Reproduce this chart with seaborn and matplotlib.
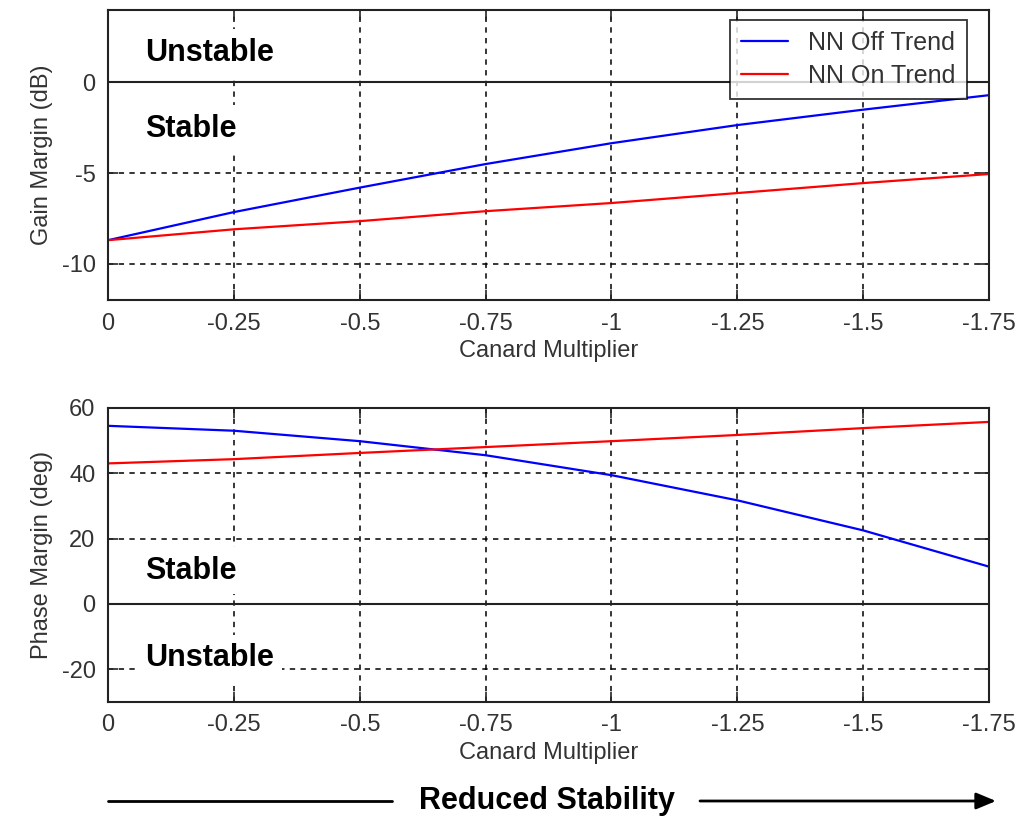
import matplotlib
matplotlib.use("Agg")
import numpy as np
import pandas as pd
import matplotlib.pyplot as plt
import seaborn as sns

# Dados
canard = [0, -0.25, -0.5, -0.75, -1.0, -1.25, -1.5, -1.75]
gain_off = [-8.7, -7.15, -5.8, -4.5, -3.35, -2.35, -1.5, -0.7]
gain_on = [-8.7, -8.1, -7.65, -7.1, -6.65, -6.1, -5.55, -5.05]
phase_off = [54.5, 53.0, 49.8, 45.5, 39.4, 31.7, 22.5, 11.4]
phase_on = [43.0, 44.3, 46.2, 48.0, 49.8, 51.7, 53.8, 55.7]
series_names = ["NN Off Trend", "NN On Trend"]
xticks = [0, -0.25, -0.5, -0.75, -1, -1.25, -1.5, -1.75]
xtick_labels = ["0", "-0.25", "-0.5", "-0.75", "-1", "-1.25", "-1.5", "-1.75"]

sns.set_style("ticks")
plt.rcParams["font.family"] = ["Liberation Sans", "DejaVu Sans"]
plt.rcParams["axes.unicode_minus"] = False

df_gain = pd.DataFrame({"x": canard * 2, "y": gain_off + gain_on,
                        "serie": [series_names[0]] * 8 + [series_names[1]] * 8})
df_phase = pd.DataFrame({"x": canard * 2, "y": phase_off + phase_on,
                         "serie": [series_names[0]] * 8 + [series_names[1]] * 8})
cores = {series_names[0]: "#0000ff", series_names[1]: "#ff0000"}

fig = plt.figure(figsize=(10.32, 8.17), dpi=100)
ax1 = fig.add_axes([0.1047, 0.6328, 0.8537, 0.355])
ax2 = fig.add_axes([0.1047, 0.1408, 0.8537, 0.36])

tick_color = "#333333"


def estilo(ax, yticks, ylim, ylabel):
    ax.set_xlim(0, -1.75)
    ax.set_ylim(*ylim)
    ax.set_xticks(xticks)
    ax.set_xticklabels(xtick_labels)
    ax.set_yticks(yticks)
    ax.grid(True, color="black", linestyle=(0, (3.5, 3.5)), linewidth=1.1)
    ax.axhline(0, color="#222222", linewidth=1.5, zorder=1.5)
    ax.tick_params(direction="in", top=True, right=True, length=7, width=1.2,
                   labelsize=17, labelcolor=tick_color, pad=9)
    for s in ax.spines.values():
        s.set_visible(True)
        s.set_linewidth(1.5)
        s.set_color("#222222")
    ax.set_xlabel("Canard Multiplier", fontsize=17, color=tick_color, labelpad=4)
    ax.set_ylabel(ylabel, fontsize=17, color=tick_color, labelpad=6)


sns.lineplot(data=df_gain, x="x", y="y", hue="serie", palette=cores,
             linewidth=1.6, ax=ax1)
sns.lineplot(data=df_phase, x="x", y="y", hue="serie", palette=cores,
             linewidth=1.6, ax=ax2, legend=False)

estilo(ax1, [-10, -5, 0], (-12, 4), "Gain Margin (dB)")
estilo(ax2, [-20, 0, 20, 40, 60], (-30, 60), "Phase Margin (deg)")

leg = ax1.legend(loc="upper right", fontsize=18, frameon=True, fancybox=False,
                 bbox_to_anchor=(0.975, 0.966), borderaxespad=0,
                 handlelength=1.9, handletextpad=0.8, labelspacing=0.35,
                 borderpad=0.45)
leg.get_frame().set_edgecolor("black")
leg.get_frame().set_linewidth(1.3)
for t in leg.get_texts():
    t.set_color(tick_color)

caixa = dict(facecolor="white", edgecolor="none", pad=6)
kw = dict(fontsize=22, fontweight="bold", color="black", ha="left", va="center",
          bbox=caixa, zorder=3)
ax1.text(-0.073, 1.65, "Unstable", **kw)
ax1.text(-0.073, -2.55, "Stable", **kw)
ax2.text(-0.073, 10.2, "Stable", **kw)
ax2.text(-0.073, -16.6, "Unstable", **kw)

# Seta "Reduced Stability"
y_seta = 1 - 801 / 817
fig.add_artist(plt.Line2D([108 / 1032, 392 / 1032], [y_seta, y_seta],
                          color="black", linewidth=2))
fig.text(547 / 1032, y_seta, "Reduced Stability", fontsize=22, fontweight="bold",
         color="black", ha="center", va="center")
fig.patches.append(matplotlib.patches.FancyArrowPatch(
    (700 / 1032, y_seta), (996 / 1032, y_seta), transform=fig.transFigure,
    arrowstyle="-|>,head_length=12,head_width=5", color="black", linewidth=2,
    mutation_scale=1, shrinkA=0, shrinkB=0))

plt.savefig("out.png", dpi=100)
plt.close()
